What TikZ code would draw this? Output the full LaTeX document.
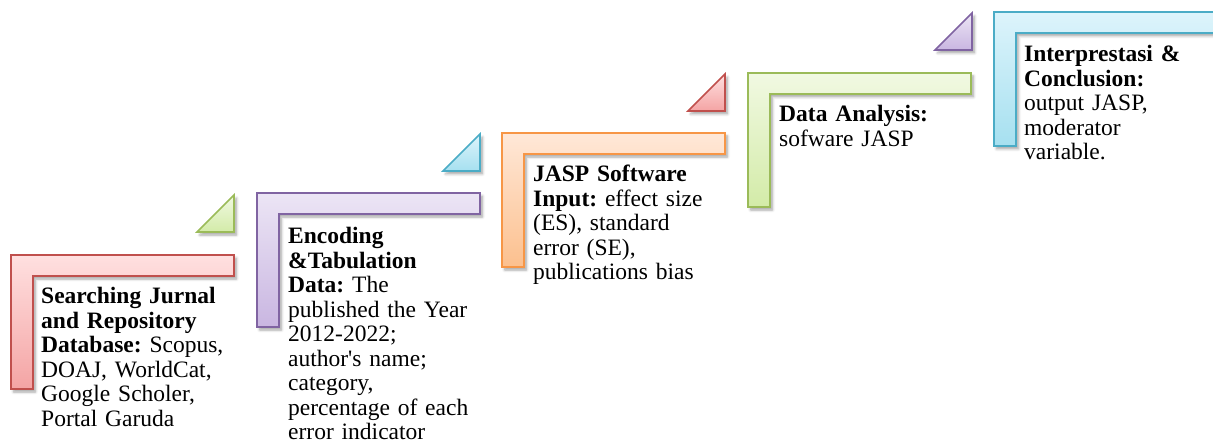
\documentclass[tikz,border=0pt]{standalone}
\usepackage{fontspec}
\setmainfont{Liberation Serif}
\frenchspacing
\usetikzlibrary{shadows.blur}
\definecolor{redB}{HTML}{C0504D}\definecolor{redT}{HTML}{FFE0E0}\definecolor{redD}{HTML}{F4A4A4}
\definecolor{purB}{HTML}{8064A2}\definecolor{purT}{HTML}{ECE5F5}\definecolor{purD}{HTML}{C9B6E1}
\definecolor{oraB}{HTML}{F79646}\definecolor{oraT}{HTML}{FFE8D8}\definecolor{oraD}{HTML}{FCC08E}
\definecolor{greB}{HTML}{9BBB59}\definecolor{greT}{HTML}{F1F9E2}\definecolor{greD}{HTML}{D3EBA8}
\definecolor{cyaB}{HTML}{4BACC6}\definecolor{cyaT}{HTML}{DDF4FB}\definecolor{cyaD}{HTML}{A6E0F0}
\tikzset{
  shp/.style={line width=1.6pt, line join=miter,
    blur shadow={shadow xshift=2.5pt, shadow yshift=-3pt, shadow blur radius=2.5pt, shadow blur steps=6, shadow opacity=35}},
  txt/.style={anchor=base west, inner sep=0pt, align=left, text width=230pt,
    font=\fontsize{23.5}{24.5}\selectfont\frenchspacing, text=black},
}
\newcommand{\lstep}[3]{%
  \draw[shp, draw=#3B, top color=#3T, bottom color=#3D]
    (#1,#2) -- ({#1+223},#2) -- ({#1+223},{#2+21}) -- ({#1+22},{#2+21})
    -- ({#1+22},{#2+134}) -- (#1,{#2+134}) -- cycle;}
\newcommand{\ltri}[3]{%
  \draw[shp, draw=#3B, top color=#3T, bottom color=#3D]
    ({#1-37},#2) -- (#1,#2) -- (#1,{#2-37}) -- cycle;}
\begin{document}
\begin{tikzpicture}[x=1pt,y=-1pt]
\useasboundingbox (0,0) rectangle (1213,443);
\clip (0,0) rectangle (1213,443);
% triangles
\ltri{234}{232}{gre}
\ltri{480}{171}{cya}
\ltri{725}{111}{red}
\ltri{972}{50}{pur}
% L-shaped steps
\lstep{11}{255}{red}
\lstep{257}{193}{pur}
\lstep{502}{133}{ora}
\lstep{748}{73}{gre}
\lstep{994}{12}{cya}
% texts
\node[txt] (t1) at (41,304) {\textbf{Searching Jurnal}\\\textbf{and Repository}\\\textbf{Database:} Scopus,\\DOAJ, WorldCat,\\Google Scholer,\\Portal Garuda};
\node[txt] (t2) at (288,244) {\textbf{Encoding}\\\textbf{\&Tabulation}\\\textbf{Data:} The\\published the Year\\2012-2022;\\author\textquotesingle s name;\\category,\\percentage of each\\error indicator};
\node[txt] (t3) at (533,182) {\textbf{JASP Software}\\\textbf{Input:} effect size\\(ES), standard\\error (SE),\\publications bias};
\node[txt] (t4) at (779,122) {\textbf{Data Analysis:}\\sofware JASP};
\node[txt] (t5) at (1024,62) {\textbf{Interprestasi \&}\\\textbf{Conclusion:}\\output JASP,\\moderator\\variable.};
\end{tikzpicture}
\end{document}
